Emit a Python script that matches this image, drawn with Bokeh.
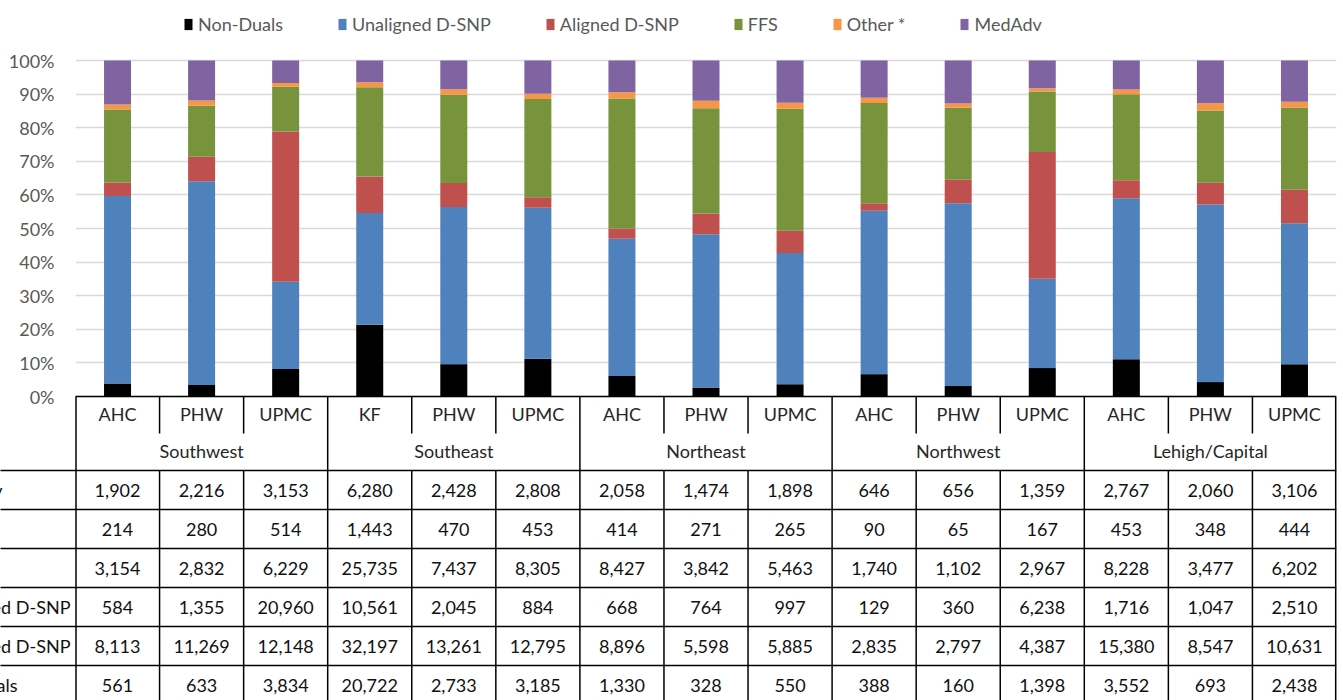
from bokeh.plotting import figure
from bokeh.models import (ColumnDataSource, Range1d, FixedTicker, NumeralTickFormatter,
                          Legend, LegendItem)
from bokeh.core.properties import value
from bokeh.embed import file_html
from bokeh.resources import INLINE

# ---------------- data ----------------
regions = ["Southwest", "Southeast", "Northeast", "Northwest", "Lehigh/Capital"]
plans = ["AHC", "PHW", "UPMC", "KF", "PHW", "UPMC", "AHC", "PHW", "UPMC",
         "AHC", "PHW", "UPMC", "AHC", "PHW", "UPMC"]
series = ["Non-Duals", "Unaligned D-SNP", "Aligned D-SNP", "FFS", "Other *", "MedAdv"]

non_duals = [561, 633, 3834, 20722, 2733, 3185, 1330, 328, 550, 388, 160, 1398, 3552, 693, 2438]
unaligned = [8113, 11269, 12148, 32197, 13261, 12795, 8896, 5598, 5885, 2835, 2797, 4387, 15380, 8547, 10631]
aligned = [584, 1355, 20960, 10561, 2045, 884, 668, 764, 997, 129, 360, 6238, 1716, 1047, 2510]
ffs = [3154, 2832, 6229, 25735, 7437, 8305, 8427, 3842, 5463, 1740, 1102, 2967, 8228, 3477, 6202]
other = [214, 280, 514, 1443, 470, 453, 414, 271, 265, 90, 65, 167, 453, 348, 444]
medadv = [1902, 2216, 3153, 6280, 2428, 2808, 2058, 1474, 1898, 646, 656, 1359, 2767, 2060, 3106]

colors = ["#000000", "#4F81BD", "#C0504D", "#77933C", "#F79646", "#8064A2"]

# ---------------- layout constants ----------------
FONT = "Lato"
W, H = 1343, 700
FL, FR = 75, 7
PX_Y = 336.0                       # pixels per 100%
Y0 = 396.0                         # pixel row of 0% inside the figure
n = len(plans)
PX_X = (W - FL - FR) / n
ytop = Y0 / PX_Y
ybot = (Y0 - H) / PX_Y

p = figure(width=W, height=H, output_backend="svg", toolbar_location=None,
           x_range=Range1d(0, n), y_range=Range1d(ybot, ytop),
           min_border_left=FL, min_border_right=FR, min_border_top=0, min_border_bottom=0,
           x_axis_location=None, y_axis_location="left")
p.outline_line_color = None
p.background_fill_color = "white"
p.border_fill_color = "white"

ticker = FixedTicker(ticks=[i / 10 for i in range(11)])
ax = p.yaxis[0]
ax.ticker = ticker
ax.formatter = NumeralTickFormatter(format="0%")
ax.axis_line_color = None
ax.major_tick_line_color = None
ax.major_tick_out = 0
ax.major_tick_in = 0
ax.minor_tick_line_color = None
ax.major_label_standoff = 21
ax.major_label_text_font = FONT
ax.major_label_text_font_size = "18px"
ax.major_label_text_color = "#595959"
p.xgrid.visible = False
p.ygrid.ticker = ticker
p.ygrid.grid_line_color = "#D9D9D9"
p.ygrid.grid_line_width = 1.5

# ---------------- stacked 100% bars ----------------
raw = [non_duals, unaligned, aligned, ffs, other, medadv]
totals = [sum(col) for col in zip(*raw)]
data = {"x": [i + 0.5 for i in range(n)]}
for name, vals in zip(series, raw):
    data[name] = [v / t for v, t in zip(vals, totals)]
src = ColumnDataSource(data)
rs = p.vbar_stack(series, x="x", width=27 / PX_X, color=colors, line_color=None, source=src)

legend = Legend(items=[LegendItem(label=s, renderers=[r]) for s, r in zip(series, rs)],
                orientation="horizontal", location=(108, H - 35),
                glyph_width=10, glyph_height=14, label_standoff=5, spacing=54,
                padding=0, margin=0, border_line_color=None, background_fill_alpha=0,
                label_text_font=FONT, label_text_font_size="18px",
                label_text_color="#595959")
p.add_layout(legend)

# ---------------- data table ----------------
sub_h = 37 / PX_Y
head_h = 74 / PX_Y
row_h = 39 / PX_Y
n_rows = len(series)
LINE = "#000000"
LW = 1.5

# horizontal lines
hy = [0.0] + [-head_h - k * row_h for k in range(n_rows + 1)]
p.segment(x0=[0] * len(hy), y0=hy, x1=[n] * len(hy), y1=hy, line_color=LINE, line_width=LW)
# extension of row lines into the row-label column
ext_x0 = -FL / PX_X
p.segment(x0=[ext_x0] * (len(hy) - 1), y0=hy[1:], x1=[0] * (len(hy) - 1), y1=hy[1:],
          line_color=LINE, line_width=LW, level="overlay")
# vertical lines
vx0, vy0, vx1, vy1 = [], [], [], []
for k in range(1, n):
    if k % 3 == 0:
        vx0.append(k); vy0.append(0.0); vx1.append(k); vy1.append(ybot)
    else:
        vx0 += [k, k]; vy0 += [0.0, -head_h]; vx1 += [k, k]; vy1 += [-sub_h, ybot]
p.segment(x0=vx0, y0=vy0, x1=vx1, y1=vy1, line_color=LINE, line_width=LW)
p.segment(x0=[0.5 / PX_X, n - 0.8 / PX_X], y0=[0.0, 0.0], x1=[0.5 / PX_X, n - 0.8 / PX_X],
          y1=[ybot, ybot], line_color=LINE, line_width=LW, level="overlay")

# header texts
p.text(x=[i + 0.5 for i in range(n)], y=[-17 / PX_Y] * n, text=plans,
       text_font=value(FONT), text_font_size="18px", text_color="#262626",
       text_align="center", text_baseline="middle")
p.text(x=[3 * g + 1.5 for g in range(len(regions))], y=[-54 / PX_Y] * len(regions),
       text=regions, text_font=value(FONT), text_font_size="18px", text_color="#262626",
       text_align="center", text_baseline="middle")

# cell values (top row = last series)
cx, cy, ct = [], [], []
for r, vals in enumerate(reversed(raw)):
    yc = -head_h - (r + 0.5) * row_h
    for i, v in enumerate(vals):
        cx.append(i + 0.5); cy.append(yc); ct.append(f"{v:,}")
p.text(x=cx, y=cy, text=ct, text_font=value(FONT), text_font_size="18px",
       text_color="#111111", text_align="center", text_baseline="middle")

# row labels, right ends placed as in the source (mostly cut off by the left edge)
label_ends_px = [2, -4, -4, 70, 70, 17]     # pixels of each label's right end
p.text(x=[(e - FL) / PX_X for e in label_ends_px],
       y=[-head_h - (r + 0.5) * row_h for r in range(n_rows)],
       text=list(reversed(series)), text_font=value(FONT), text_font_size="18px",
       text_color="#111111", text_align="right", text_baseline="middle", level="overlay")

open("out.html", "w").write(file_html(p, INLINE))
